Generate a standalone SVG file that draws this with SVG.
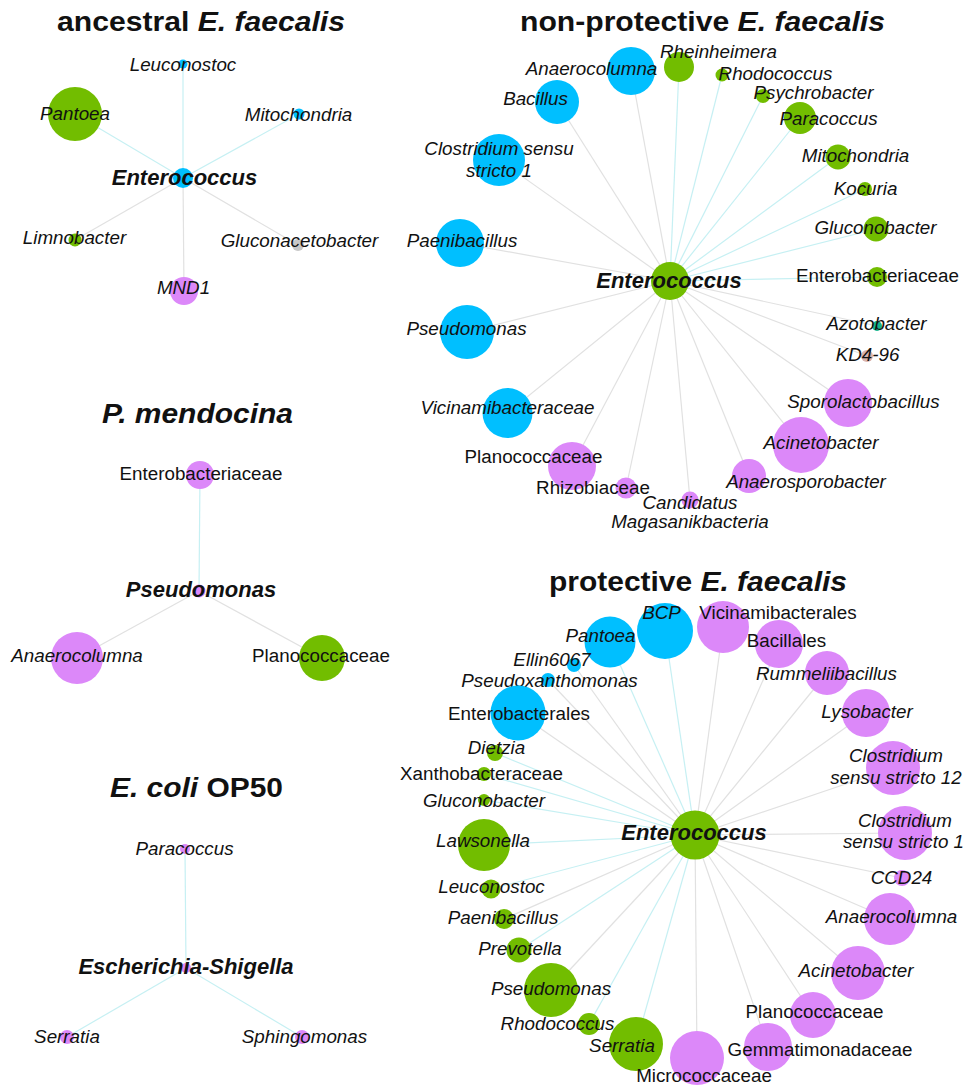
<svg xmlns="http://www.w3.org/2000/svg" width="969" height="1088" viewBox="0 0 969 1088">
<style>
text{font-family:"Liberation Sans",Arial,sans-serif;fill:#111;}
.t{font-size:27px;font-weight:bold;}
.i{font-style:italic;}
.l{font-size:18.8px;font-style:italic;text-anchor:middle;}
.n{font-size:18.8px;text-anchor:middle;}
.c{font-size:22px;font-weight:bold;font-style:italic;text-anchor:middle;}
.ec{stroke:#c6f0f3;stroke-width:1.2;fill:none;}
.eg{stroke:#e1e1e1;stroke-width:1.2;fill:none;}
.b{fill:#00bfff;}
.g{fill:#72bd00;}
.p{fill:#dc88f9;}
.gr{fill:#c8c8c8;}
.tl{fill:#14b48c;}
.pk{fill:#d9b3ad;}
</style>
<rect width="969" height="1088" fill="#ffffff"/>

<!-- Titles -->
<g id="titles">
<text class="t" x="57" y="31" textLength="288" lengthAdjust="spacingAndGlyphs">ancestral <tspan class="i">E. faecalis</tspan></text>
<text class="t" x="520" y="31" textLength="365" lengthAdjust="spacingAndGlyphs">non-protective <tspan class="i">E. faecalis</tspan></text>
<text class="t i" x="102" y="423" textLength="191" lengthAdjust="spacingAndGlyphs">P. mendocina</text>
<text class="t" x="549" y="591" textLength="298" lengthAdjust="spacingAndGlyphs">protective <tspan class="i">E. faecalis</tspan></text>
<text class="t" x="110" y="797" textLength="173" lengthAdjust="spacingAndGlyphs"><tspan class="i">E. coli</tspan> OP50</text>
</g>

<!-- Connectors -->
<g id="connectors">
<!-- ancestral -->
<line class="ec" x1="183" y1="178" x2="183" y2="64"/>
<line class="ec" x1="183" y1="178" x2="75" y2="114"/>
<line class="ec" x1="183" y1="178" x2="299" y2="114"/>
<line class="eg" x1="183" y1="178" x2="75" y2="240"/>
<line class="eg" x1="183" y1="178" x2="298" y2="245"/>
<line class="eg" x1="183" y1="178" x2="184" y2="291"/>
<!-- non-protective -->
<line class="eg" x1="670" y1="281" x2="631" y2="71"/>
<line class="ec" x1="670" y1="281" x2="679" y2="67"/>
<line class="ec" x1="670" y1="281" x2="722" y2="75"/>
<line class="ec" x1="670" y1="281" x2="763" y2="96"/>
<line class="ec" x1="670" y1="281" x2="800" y2="118"/>
<line class="ec" x1="670" y1="281" x2="838" y2="157"/>
<line class="ec" x1="670" y1="281" x2="865" y2="189"/>
<line class="ec" x1="670" y1="281" x2="876" y2="229"/>
<line class="ec" x1="670" y1="281" x2="877" y2="277"/>
<line class="eg" x1="670" y1="281" x2="877" y2="326"/>
<line class="eg" x1="670" y1="281" x2="867" y2="356"/>
<line class="eg" x1="670" y1="281" x2="848" y2="403"/>
<line class="eg" x1="670" y1="281" x2="801" y2="445"/>
<line class="eg" x1="670" y1="281" x2="749" y2="476"/>
<line class="eg" x1="670" y1="281" x2="690" y2="500"/>
<line class="eg" x1="670" y1="281" x2="626" y2="488"/>
<line class="eg" x1="670" y1="281" x2="572" y2="466"/>
<line class="eg" x1="670" y1="281" x2="507.5" y2="413"/>
<line class="eg" x1="670" y1="281" x2="467" y2="332"/>
<line class="eg" x1="670" y1="281" x2="460" y2="243"/>
<line class="eg" x1="670" y1="281" x2="499" y2="160"/>
<line class="eg" x1="670" y1="281" x2="557" y2="102"/>
<!-- P. mendocina -->
<line class="ec" x1="199" y1="591" x2="200" y2="475"/>
<line class="eg" x1="199" y1="591" x2="77" y2="658"/>
<line class="eg" x1="199" y1="591" x2="322" y2="658"/>
<!-- E. coli -->
<line class="ec" x1="186" y1="968" x2="185" y2="849"/>
<line class="ec" x1="186" y1="968" x2="67" y2="1037"/>
<line class="ec" x1="186" y1="968" x2="302" y2="1037"/>
<!-- protective -->
<line class="ec" x1="695" y1="835" x2="665" y2="631"/>
<line class="ec" x1="695" y1="835" x2="610" y2="642"/>
<line class="eg" x1="695" y1="835" x2="574" y2="665"/>
<line class="eg" x1="695" y1="835" x2="548" y2="680"/>
<line class="eg" x1="695" y1="835" x2="518" y2="713"/>
<line class="ec" x1="695" y1="835" x2="495" y2="753"/>
<line class="ec" x1="695" y1="835" x2="484" y2="774"/>
<line class="ec" x1="695" y1="835" x2="484" y2="800"/>
<line class="ec" x1="695" y1="835" x2="484" y2="845"/>
<line class="ec" x1="695" y1="835" x2="491" y2="889"/>
<line class="eg" x1="695" y1="835" x2="504" y2="919"/>
<line class="ec" x1="695" y1="835" x2="519" y2="950"/>
<line class="eg" x1="695" y1="835" x2="551" y2="990"/>
<line class="ec" x1="695" y1="835" x2="589" y2="1024"/>
<line class="ec" x1="695" y1="835" x2="636" y2="1044"/>
<line class="eg" x1="695" y1="835" x2="697" y2="1058"/>
<line class="eg" x1="695" y1="835" x2="768" y2="1047"/>
<line class="eg" x1="695" y1="835" x2="813" y2="1015"/>
<line class="eg" x1="695" y1="835" x2="858" y2="973"/>
<line class="eg" x1="695" y1="835" x2="890" y2="919"/>
<line class="eg" x1="695" y1="835" x2="902" y2="878"/>
<line class="eg" x1="695" y1="835" x2="905" y2="833"/>
<line class="eg" x1="695" y1="835" x2="893" y2="768"/>
<line class="eg" x1="695" y1="835" x2="866" y2="713"/>
<line class="eg" x1="695" y1="835" x2="827" y2="673"/>
<line class="eg" x1="695" y1="835" x2="779" y2="644"/>
<line class="eg" x1="695" y1="835" x2="723" y2="627"/>
</g>

<!-- ancestral E. faecalis nodes -->
<g id="a-pantoea"><circle class="g" cx="75" cy="114" r="27"/><text class="l" x="75" y="120">Pantoea</text></g>
<g id="a-leuconostoc"><circle class="b" cx="183" cy="64" r="4.5"/><text class="l" x="183" y="71">Leuconostoc</text></g>
<g id="a-mitochondria"><circle class="b" cx="299" cy="114" r="5.5"/><text class="l" x="298.5" y="121">Mitochondria</text></g>
<g id="a-limnobacter"><circle class="g" cx="75" cy="240" r="6.5"/><text class="l" x="74.5" y="244">Limnobacter</text></g>
<g id="a-gluconacetobacter"><circle class="gr" cx="298" cy="245" r="6"/><text class="l" x="299.5" y="247">Gluconacetobacter</text></g>
<g id="a-mnd1"><circle class="p" cx="184" cy="291" r="14"/><text class="l" x="183.5" y="294">MND1</text></g>
<g id="a-enterococcus"><circle class="b" cx="183" cy="178" r="10"/><text class="c" x="184.5" y="185">Enterococcus</text></g>

<!-- non-protective E. faecalis nodes -->
<g id="np-anaerocolumna"><circle class="b" cx="631" cy="71" r="24"/><text class="l" x="591.5" y="75">Anaerocolumna</text></g>
<g id="np-rheinheimera"><circle class="g" cx="679" cy="67" r="15"/><text class="l" x="718.5" y="58">Rheinheimera</text></g>
<g id="np-rhodococcus"><circle class="g" cx="722" cy="75" r="6.5"/><text class="l" x="775.5" y="80">Rhodococcus</text></g>
<g id="np-psychrobacter"><circle class="g" cx="763" cy="96" r="7"/><text class="l" x="813.5" y="99">Psychrobacter</text></g>
<g id="np-paracoccus"><circle class="g" cx="800" cy="118" r="16"/><text class="l" x="828.5" y="125">Paracoccus</text></g>
<g id="np-mitochondria"><circle class="g" cx="838" cy="157" r="12.5"/><text class="l" x="855.5" y="162">Mitochondria</text></g>
<g id="np-kocuria"><circle class="g" cx="865" cy="189" r="7"/><text class="l" x="865.5" y="195">Kocuria</text></g>
<g id="np-gluconobacter"><circle class="g" cx="876" cy="229" r="12.5"/><text class="l" x="875.5" y="234">Gluconobacter</text></g>
<g id="np-enterobacteriaceae"><circle class="g" cx="877" cy="277" r="10"/><text class="n" x="877.5" y="282">Enterobacteriaceae</text></g>
<g id="np-azotobacter"><circle class="tl" cx="877" cy="326" r="5"/><text class="l" x="876.5" y="330">Azotobacter</text></g>
<g id="np-kd4-96"><circle class="pk" cx="867" cy="356" r="6"/><text class="l" x="867.5" y="361">KD4-96</text></g>
<g id="np-sporolactobacillus"><circle class="p" cx="848" cy="403" r="24"/><text class="l" x="863.5" y="408">Sporolactobacillus</text></g>
<g id="np-acinetobacter"><circle class="p" cx="801" cy="445" r="28"/><text class="l" x="821" y="449">Acinetobacter</text></g>
<g id="np-anaerosporobacter"><circle class="p" cx="749" cy="476" r="17"/><text class="l" x="806" y="488">Anaerosporobacter</text></g>
<g id="np-candidatus"><circle class="p" cx="690" cy="500" r="8.5"/><text class="l" x="690" y="509">Candidatus</text><text class="l" x="690" y="528">Magasanikbacteria</text></g>
<g id="np-planococcaceae"><circle class="p" cx="572" cy="466" r="24"/><text class="n" x="533.5" y="463">Planococcaceae</text></g>
<g id="np-rhizobiaceae"><circle class="p" cx="626" cy="488" r="10.5"/><text class="n" x="593" y="494">Rhizobiaceae</text></g>
<g id="np-vicinamibacteraceae"><circle class="b" cx="507.5" cy="413" r="25"/><text class="l" x="507.5" y="414">Vicinamibacteraceae</text></g>
<g id="np-pseudomonas"><circle class="b" cx="467" cy="332" r="27"/><text class="l" x="466.5" y="335">Pseudomonas</text></g>
<g id="np-paenibacillus"><circle class="b" cx="460" cy="243" r="24"/><text class="l" x="462" y="247">Paenibacillus</text></g>
<g id="np-clostridium"><circle class="b" cx="499" cy="160" r="26"/><text class="l" x="499" y="155">Clostridium sensu</text><text class="l" x="499" y="177">stricto 1</text></g>
<g id="np-bacillus"><circle class="b" cx="557" cy="102" r="22"/><text class="l" x="535.5" y="105">Bacillus</text></g>
<g id="np-enterococcus"><circle class="g" cx="670" cy="281" r="19"/><text class="c" x="669" y="288">Enterococcus</text></g>

<!-- P. mendocina nodes -->
<g id="pm-enterobacteriaceae"><circle class="p" cx="200" cy="475" r="14"/><text class="n" x="201" y="480">Enterobacteriaceae</text></g>
<g id="pm-anaerocolumna"><circle class="p" cx="77" cy="658" r="26"/><text class="l" x="77" y="662">Anaerocolumna</text></g>
<g id="pm-planococcaceae"><circle class="g" cx="322" cy="658" r="23"/><text class="n" x="321" y="662">Planococcaceae</text></g>
<g id="pm-pseudomonas"><circle class="p" cx="199" cy="591" r="6.5"/><text class="c" x="201" y="597">Pseudomonas</text></g>

<!-- E. coli OP50 nodes -->
<g id="ec-paracoccus"><circle class="p" cx="185" cy="849" r="5"/><text class="l" x="184.5" y="855">Paracoccus</text></g>
<g id="ec-serratia"><circle class="p" cx="67" cy="1037" r="7"/><text class="l" x="67" y="1043">Serratia</text></g>
<g id="ec-sphingomonas"><circle class="p" cx="302" cy="1037" r="7"/><text class="l" x="304.5" y="1043">Sphingomonas</text></g>
<g id="ec-escherichia"><circle class="p" cx="186" cy="968" r="5"/><text class="c" x="186" y="974">Escherichia-Shigella</text></g>

<!-- protective E. faecalis nodes -->
<g id="p-bcp"><circle class="b" cx="665" cy="631" r="28"/><text class="l" x="661.5" y="619">BCP</text></g>
<g id="p-pantoea"><circle class="b" cx="610" cy="642" r="25.5"/><text class="l" x="600.5" y="642">Pantoea</text></g>
<g id="p-pseudoxanthomonas"><circle class="b" cx="548" cy="680" r="7"/><text class="l" x="549.5" y="687">Pseudoxanthomonas</text></g>
<g id="p-ellin6067"><circle class="b" cx="574" cy="665" r="7"/><text class="l" x="552" y="666">Ellin6067</text></g>
<g id="p-enterobacterales"><circle class="b" cx="518" cy="713" r="27.5"/><text class="n" x="519" y="720">Enterobacterales</text></g>
<g id="p-dietzia"><circle class="g" cx="495" cy="753" r="8"/><text class="l" x="496.5" y="754">Dietzia</text></g>
<g id="p-xanthobacteraceae"><circle class="g" cx="484" cy="774" r="7"/><text class="n" x="481.5" y="780">Xanthobacteraceae</text></g>
<g id="p-gluconobacter"><circle class="g" cx="484" cy="800" r="6"/><text class="l" x="484" y="807">Gluconobacter</text></g>
<g id="p-lawsonella"><circle class="g" cx="484" cy="845" r="26"/><text class="l" x="483" y="847">Lawsonella</text></g>
<g id="p-leuconostoc"><circle class="g" cx="491" cy="889" r="9.5"/><text class="l" x="491.5" y="893">Leuconostoc</text></g>
<g id="p-paenibacillus"><circle class="g" cx="504" cy="919" r="10"/><text class="l" x="503" y="924">Paenibacillus</text></g>
<g id="p-prevotella"><circle class="g" cx="519" cy="950" r="12.5"/><text class="l" x="520" y="955">Prevotella</text></g>
<g id="p-pseudomonas"><circle class="g" cx="551" cy="990" r="27"/><text class="l" x="551" y="995">Pseudomonas</text></g>
<g id="p-serratia"><circle class="g" cx="636" cy="1044" r="27"/><text class="l" x="622" y="1052">Serratia</text></g>
<g id="p-rhodococcus"><circle class="g" cx="589" cy="1024" r="11"/><text class="l" x="557.5" y="1030">Rhodococcus</text></g>
<g id="p-gemmatimonadaceae"><circle class="p" cx="768" cy="1047" r="24"/><text class="n" x="820" y="1056">Gemmatimonadaceae</text></g>
<g id="p-micrococcaceae"><circle class="p" cx="697" cy="1058" r="27"/><text class="n" x="704" y="1082">Micrococcaceae</text></g>
<g id="p-planococcaceae"><circle class="p" cx="813" cy="1015" r="23"/><text class="n" x="814.5" y="1018">Planococcaceae</text></g>
<g id="p-acinetobacter"><circle class="p" cx="858" cy="973" r="27"/><text class="l" x="856" y="977">Acinetobacter</text></g>
<g id="p-anaerocolumna"><circle class="p" cx="890" cy="919" r="26"/><text class="l" x="891.5" y="923">Anaerocolumna</text></g>
<g id="p-ccd24"><circle class="p" cx="902" cy="878" r="8"/><text class="l" x="901.5" y="884">CCD24</text></g>
<g id="p-clostridium1"><circle class="p" cx="905" cy="833" r="27"/><text class="l" x="905" y="827">Clostridium</text><text class="l" x="903.5" y="848">sensu stricto 1</text></g>
<g id="p-clostridium12"><circle class="p" cx="893" cy="768" r="27"/><text class="l" x="896" y="762">Clostridium</text><text class="l" x="896" y="784">sensu stricto 12</text></g>
<g id="p-lysobacter"><circle class="p" cx="866" cy="713" r="24"/><text class="l" x="867" y="718">Lysobacter</text></g>
<g id="p-rummeliibacillus"><circle class="p" cx="827" cy="673" r="22"/><text class="l" x="826.5" y="680">Rummeliibacillus</text></g>
<g id="p-bacillales"><circle class="p" cx="779" cy="644" r="24"/><text class="n" x="786.5" y="647">Bacillales</text></g>
<g id="p-vicinamibacterales"><circle class="p" cx="723" cy="627" r="26"/><text class="n" x="778" y="619">Vicinamibacterales</text></g>
<g id="p-enterococcus"><circle class="g" cx="695" cy="835" r="24.5"/><text class="c" x="694" y="840">Enterococcus</text></g>
</svg>
